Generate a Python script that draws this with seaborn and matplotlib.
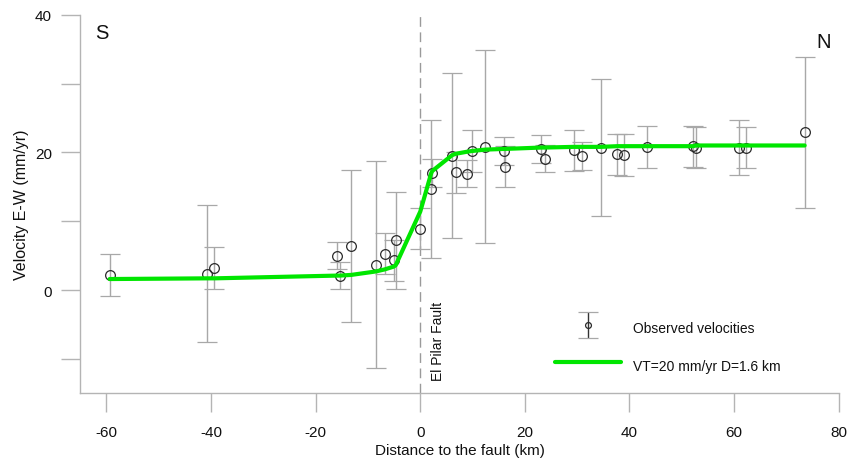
import numpy as np
import pandas as pd
import matplotlib
matplotlib.use("Agg")
import matplotlib.pyplot as plt
import seaborn as sns
from matplotlib.container import ErrorbarContainer
from matplotlib.legend_handler import HandlerErrorbar

# ---- data ----
distance_km = [-59.4, -40.8, -39.4, -15.9, -15.4, -13.2, -8.5, -6.8, -5.1, -4.7,
               0.0, 2.1, 2.3, 6.1, 6.8, 9.0, 9.9, 12.4, 16.0, 16.2,
               23.1, 23.8, 29.4, 30.9, 34.5, 37.7, 38.9, 43.4, 52.2, 52.7,
               61.0, 62.3, 73.5]
velocity_ew = [2.2, 2.4, 3.2, 5.0, 2.1, 6.4, 3.7, 5.3, 4.3, 7.2,
               8.9, 14.7, 17.0, 19.5, 17.1, 16.9, 20.2, 20.8, 20.2, 17.9,
               20.5, 19.1, 20.3, 19.5, 20.7, 19.7, 19.6, 20.8, 20.9, 20.7,
               20.7, 20.7, 22.9]
velocity_err = [3.0, 10.0, 3.0, 2.0, 2.0, 11.0, 15.0, 3.0, 3.0, 7.0,
                3.0, 10.0, 2.0, 12.0, 3.0, 2.0, 3.0, 14.0, 2.0, 3.0,
                2.0, 2.0, 3.0, 2.0, 10.0, 3.0, 3.0, 3.0, 3.0, 3.0,
                4.0, 3.0, 11.0]
model_velocity = [1.6, 1.7, 1.7, 2.1, 2.1, 2.2, 2.7, 3.0, 3.4, 3.6,
                  11.4, 17.0, 17.3, 19.6, 19.8, 20.1, 20.2, 20.4, 20.5, 20.5,
                  20.7, 20.7, 20.8, 20.8, 20.8, 20.9, 20.9, 20.9, 20.9, 21.0,
                  21.0, 21.0, 21.0]

x_ticks = [-60, -40, -20, 0, 20, 40, 60, 80]
y_ticks = [-10, 0, 10, 20, 30, 40]
y_tick_labels = ["", "0", "", "20", "", "40"]

obs_label = "Observed velocities"
model_label = "VT=20 mm/yr D=1.6 km"

df_model = pd.DataFrame({"distance": distance_km, "model": model_velocity})

# ---- style ----
sns.set_theme(style="white")
plt.rcParams["font.family"] = ["Liberation Sans", "DejaVu Sans"]
plt.rcParams["axes.unicode_minus"] = False

AX_GRAY = "#b4b4b4"
BAR_GRAY = "#a8a8a8"
GREEN = "#00e600"

fig = plt.figure(figsize=(8.51, 4.60), dpi=100)
ax = fig.add_axes([0.0944, 0.1428, 0.8911, 0.8231])

# fault line
ax.axvline(0, color="#9a9a9a", lw=1.0, ls=(0, (7, 4)), zorder=1)

# observations with error bars
eb = ax.errorbar(distance_km, velocity_ew, yerr=velocity_err, fmt="o",
                 mfc="none", mec="#2a2a2a", mew=0.9, ms=7,
                 ecolor=BAR_GRAY, elinewidth=1.0, capsize=7, capthick=1.0,
                 label=obs_label, zorder=3)

# model curve
sns.lineplot(data=df_model, x="distance", y="model", ax=ax, color=GREEN,
             lw=3, sort=False, estimator=None, label=model_label, zorder=4)

ax.set_xlim(-65, 80)
ax.set_ylim(-15, 40)
ax.set_xticks(x_ticks)
ax.set_yticks(y_ticks, y_tick_labels)

for side in ["top", "right"]:
    ax.spines[side].set_visible(False)
for side in ["left", "bottom"]:
    ax.spines[side].set_color(AX_GRAY)
    ax.spines[side].set_linewidth(1.0)

ax.tick_params(axis="both", which="major", direction="out", color=AX_GRAY,
               width=1.0, length=13.5, labelsize=11, labelcolor="#111111",
               bottom=True, left=True)
ax.tick_params(axis="x", pad=9)
ax.tick_params(axis="y", pad=7)

ax.set_xlabel("Distance to the fault (km)", fontsize=11, color="#111111", labelpad=3)
ax.set_ylabel("Velocity E-W (mm/yr)", fontsize=11.5, color="#111111", labelpad=4)

# annotations
ax.text(-62.1, 36.6, "S", fontsize=14.5, color="#111111", ha="left", va="baseline")
ax.text(75.7, 35.3, "N", fontsize=14.5, color="#111111", ha="left", va="baseline")
ax.text(2.0, -13.1, "El Pilar Fault", fontsize=10, rotation=90, color="#111111",
        ha="left", va="bottom")

# legend
handles, labels = ax.get_legend_handles_labels()
order = [labels.index(obs_label), labels.index(model_label)]
leg = ax.legend([handles[i] for i in order], [labels[i] for i in order],
                loc="center left", bbox_to_anchor=(0.626, 0.123),
                frameon=False, fontsize=10, handlelength=4.75,
                handletextpad=0.85, handleheight=2.0, labelspacing=1.15,
                borderpad=0, borderaxespad=0, markerscale=0.6,
                handler_map={ErrorbarContainer: HandlerErrorbar(xerr_size=0.5, yerr_size=0.95)})
for t in leg.get_texts():
    t.set_color("#111111")
# darken the legend error-bar glyph as in the reference
for child in leg.findobj(matplotlib.lines.Line2D):
    if matplotlib.colors.same_color(child.get_color(), BAR_GRAY):
        child.set_color("#333333")
for child in leg.findobj(matplotlib.collections.LineCollection):
    child.set_color("#333333")

fig.savefig("out.png", dpi=100)
